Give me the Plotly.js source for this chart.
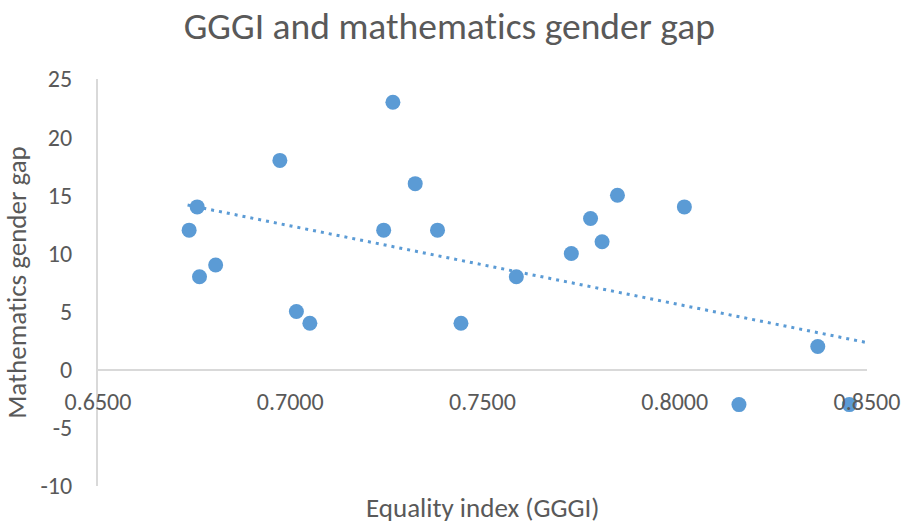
<!DOCTYPE html>
<html>
<head>
<meta charset="utf-8">
<script src="https://cdn.plot.ly/plotly-3.0.1.min.js"></script>
<style>
html,body{margin:0;padding:0;background:#fff;}
#chart{width:904px;height:523px;}
#chart text{font-variant-ligatures:none;font-feature-settings:"liga" 0,"clig" 0;}
</style>
</head>
<body>
<div id="chart"></div>
<script>
// GGGI (equality index) per country
var gggi = [0.6737, 0.6758, 0.6764, 0.6806, 0.6973, 0.7016, 0.7051, 0.7243, 0.7267, 0.7325, 0.7383,
            0.7444, 0.7588, 0.7731, 0.7781, 0.7811, 0.7851, 0.8025, 0.8167, 0.8372, 0.8454];
// Mathematics gender gap per country
var mathGap = [12, 14, 8, 9, 18, 5, 4, 12, 23, 16, 12, 4, 8, 10, 13, 11, 15, 14, -3, 2, -3];

// linear trendline (endpoints)
var trendX = [0.6733, 0.8500];
var trendY = [14.16, 2.33];

var xTicks = [0.65, 0.70, 0.75, 0.80, 0.85];
var xTickLabels = ['0.6500', '0.7000', '0.7500', '0.8000', '0.8500'];
var yTicks = [-10, -5, 0, 5, 10, 15, 20, 25];
var yTickLabels = ['-10', '-5', '0', '5', '10', '15', '20', '25'];
var xRange = [0.65, 0.85];
var yRange = [-10, 25];

var FONT = 'Carlito, Calibri, "Noto Sans", sans-serif';
var GREY = '#595959';
var BLUE = '#5b9bd5';

var data = [
  { x: trendX, y: trendY, type: 'scatter', mode: 'lines', hoverinfo: 'skip',
    line: { color: BLUE, width: 3, dash: '3px,5px' } },
  { x: gggi, y: mathGap, type: 'scatter', mode: 'markers',
    marker: { color: BLUE, size: 15, line: { width: 0 } } }
];

var layout = {
  width: 904, height: 523,
  margin: { l: 98, r: 37, t: 79, b: 37 },
  paper_bgcolor: '#fff', plot_bgcolor: '#fff',
  showlegend: false,
  font: { family: FONT, color: GREY, size: 24 },
  title: { text: 'GGGI and mathematics gender gap', x: 0.497, xref: 'container', xanchor: 'center',
           y: 0.95, yref: 'container', yanchor: 'middle',
           font: { family: FONT, size: 37.5, color: GREY } },
  xaxis: {
    range: xRange, tickvals: xTicks, ticktext: xTickLabels,
    anchor: 'free', position: (0 - yRange[0]) / (yRange[1] - yRange[0]),
    showgrid: false, zeroline: false, showline: true, linecolor: '#d9d9d9', linewidth: 2,
    ticks: '', ticklabelstandoff: 10,
    tickfont: { family: FONT, size: 24, color: GREY }
  },
  yaxis: {
    range: yRange, tickvals: yTicks, ticktext: yTickLabels,
    showgrid: false, zeroline: false, showline: true, linecolor: '#d9d9d9', linewidth: 2,
    ticks: '', ticklabelstandoff: 19,
    tickfont: { family: FONT, size: 24, color: GREY },
    title: { text: 'Mathematics gender gap', standoff: 16, font: { family: FONT, size: 27, color: GREY } }
  },
  annotations: [
    { text: 'Equality index (GGGI)', xref: 'paper', yref: 'paper', x: 0.5, y: -0.053,
      xanchor: 'center', yanchor: 'middle', showarrow: false,
      font: { family: FONT, size: 27, color: GREY } }
  ]
};

Plotly.newPlot('chart', data, layout, { displayModeBar: false, staticPlot: true });
</script>
</body>
</html>
